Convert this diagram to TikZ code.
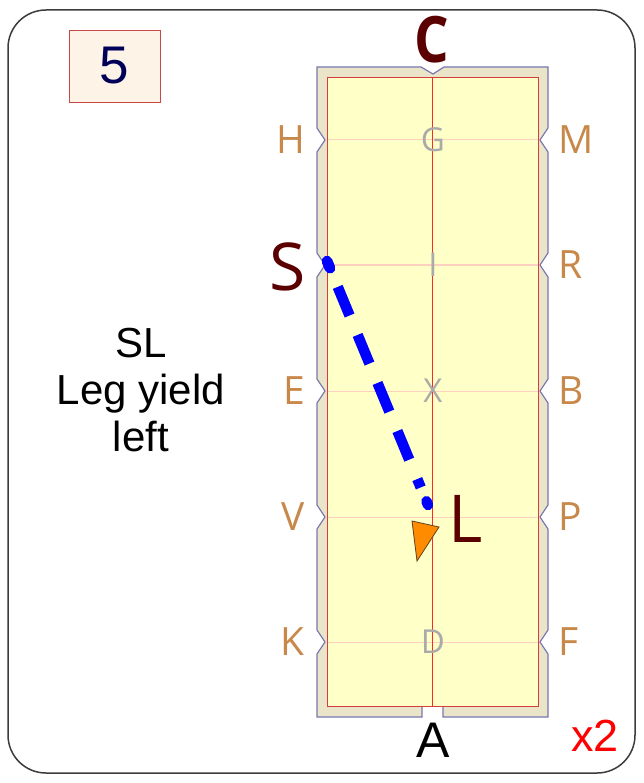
\documentclass[tikz,border=0pt]{standalone}
\usepackage{fontspec}
\setmainfont{Liberation Sans}
\newfontfamily\osans{Open Sans}
\usetikzlibrary{calc}
\definecolor{framec}{HTML}{3C3C3C}
\definecolor{tanc}{HTML}{EAE4C8}
\definecolor{outl}{HTML}{7878B0}
\definecolor{yel}{HTML}{FFFFC8}
\definecolor{redb}{HTML}{D83C3C}
\definecolor{midred}{RGB}{255,40,40}
\definecolor{pinkl}{HTML}{FFCFC0}
\definecolor{markc}{HTML}{C8884A}
\definecolor{darkred}{HTML}{5A0000}
\definecolor{navyc}{HTML}{000058}
\definecolor{boxfill}{HTML}{FDF3E7}
\definecolor{boxred}{HTML}{C84848}
\definecolor{grayl}{HTML}{AAAAAA}
\definecolor{pathblue}{HTML}{0000FF}
\definecolor{triorange}{HTML}{FF8C00}
\begin{document}
\begin{tikzpicture}[x=1pt,y=-1pt,
  marker/.style={font=\osans\fontsize{39}{39}\selectfont, text=markc, inner sep=0pt},
  ctrletter/.style={font=\osans\fontsize{33}{33}\selectfont, text=grayl, inner sep=0pt},
  bigletter/.style={font=\osans\fontsize{66}{66}\selectfont, text=darkred, inner sep=0pt},
  pathline/.style={draw=pathblue, line width=10.5pt}]
\useasboundingbox (0,0) rectangle (643,783);
% outer frame
\draw[line width=1.5pt, draw=framec, rounded corners=38pt] (8,10) rectangle (635,773);
% arena border
\filldraw[fill=tanc, draw=outl, line width=1.2pt]
  (317,67) -- (421,67) -- (433,74) -- (444,67) -- (548,67)
  -- (548,128) -- (540,140) -- (548,152)
  -- (548,253) -- (540,265) -- (548,277)
  -- (548,379) -- (540,391) -- (548,403)
  -- (548,505) -- (540,517) -- (548,529)
  -- (548,630) -- (540,642) -- (548,654)
  -- (548,717) -- (443,717) -- (443,706) -- (422,706) -- (422,717) -- (317,717)
  -- (317,654) -- (325,642) -- (317,630)
  -- (317,529) -- (325,517) -- (317,505)
  -- (317,403) -- (325,391) -- (317,379)
  -- (317,277) -- (325,265) -- (317,253)
  -- (317,152) -- (325,140) -- (317,128) -- cycle;
% inner arena
\filldraw[fill=yel, draw=redb, line width=1pt] (327,78) rectangle (538,706);
\foreach \yy in {140,265,391,517,642}
  \draw[draw=pinkl, line width=1pt] (327.5,\yy) -- (537.5,\yy);
\draw[draw=midred, line width=1.2pt] (432.5,78) -- (432.5,706);
% centre letters
\node[ctrletter] (G) at (433,140) {G};
\node[ctrletter] (I) at (433,265) {I};
\node[ctrletter] (X) at (433,391) {X};
\node[ctrletter] (D) at (433,642) {D};
% left markers
\node[marker, anchor=east] (H) at (305,140) {H};
\node[marker, anchor=east] (E) at (305,391) {E};
\node[marker, anchor=east] (V) at (305,517) {V};
\node[marker, anchor=east] (K) at (305,642) {K};
% right markers
\node[marker, anchor=west] (M) at (558,140) {M};
\node[marker, anchor=west] (R) at (558,265) {R};
\node[marker, anchor=west] (B) at (558,391) {B};
\node[marker, anchor=west] (P) at (558,517) {P};
\node[marker, anchor=west] (F) at (558,642) {F};
% big letters
\node[font=\osans\bfseries\fontsize{64}{64}\selectfont, text=darkred, inner sep=0pt, xscale=0.85] (C) at (432,40) {C};
\node[bigletter] (S) at (287.5,266.5) {S};
\node[bigletter] (L) at (466,519) {L};
\node[font=\fontsize{50}{50}\selectfont, inner sep=0pt] (A) at (433.5,740) {A};
\node[font=\fontsize{45}{45}\selectfont, text=red, inner sep=0pt] (times) at (595,736) {x2};
% number box
\node[draw=boxred, fill=boxfill, line width=0.8pt, minimum width=91pt, minimum height=72pt,
  inner sep=0pt, text=navyc, font=\fontsize{53}{53}\selectfont] (num) at (114.5,66) {5};
% description
\node[align=center, font=\fontsize{42}{47}\selectfont, inner sep=0pt] (desc) at (141,390)
  {SL\\Leg yield\\left};
% path
\coordinate (s0) at (327,261);
\coordinate (s1) at (428,505);
\draw[pathline, dash pattern=on 31pt off 21pt, dash phase=24pt] (s0) -- ($(s0)!0.928!(s1)$);
\draw[pathline, line cap=round] (s0) -- ($(s0)!8pt!(s1)$);
\draw[pathline, line cap=round] ($(s0)!0.985!(s1)$) -- (s1);
% direction triangle
\coordinate (t1) at (412,521);
\coordinate (t2) at (439,527);
\coordinate (t3) at (417,561);
\filldraw[fill=triorange, draw=brown!50!black, line width=0.8pt] (t1) -- (t2) -- (t3) -- cycle;
\end{tikzpicture}
\end{document}
